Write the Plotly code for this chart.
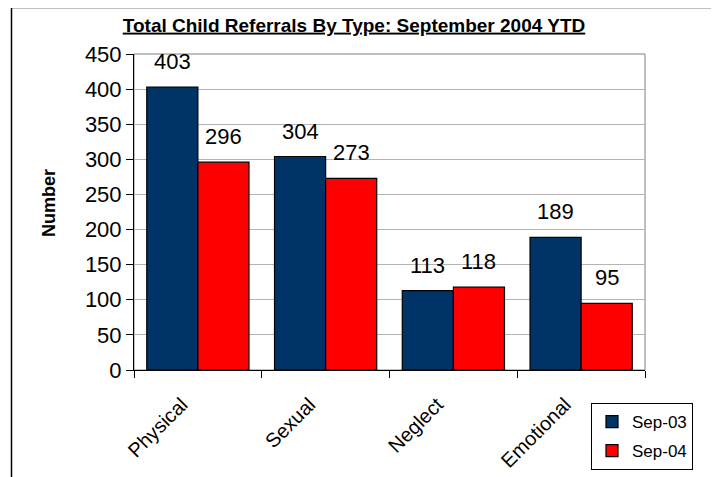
import plotly.graph_objects as go

categories = ["Physical", "Sexual", "Neglect", "Emotional"]
sep03 = [403, 304, 113, 189]
sep04 = [296, 273, 118, 95]
series_names = ["Sep-03", "Sep-04"]
y_ticks = [0, 50, 100, 150, 200, 250, 300, 350, 400, 450]

# page has an 8px body margin; figure is sized/positioned to compensate
OFF = 8
W, H = 719 - OFF, 477 - OFF
ML, MT = 134 - OFF, 54 - OFF
MR = W - (645 - OFF)
MB = H - (370 - OFF)
PW = W - ML - MR
PH = H - MT - MB
BARGAP = 0.2
cat_w = PW / len(categories)
bar_w = cat_w * (1 - BARGAP) / 2


def px_x(x):  # reference pixel -> paper x
    return (x - 134) / PW


def px_y(y):  # reference pixel -> paper y
    return (370 - y) / PH


FONT = "Arial, Liberation Sans, sans-serif"
BLUE = "#003366"
RED = "#FF0000"

fig = go.Figure()
for name, vals, col, grp in [(series_names[0], sep03, BLUE, "a"), (series_names[1], sep04, RED, "b")]:
    fig.add_trace(go.Bar(
        x=categories, y=vals, name=name, legendgroup=grp,
        marker=dict(color=col, line=dict(color="black", width=1.2)),
        hoverinfo="x+y",
    ))

annotations = []
for vals, sign in [(sep03, -1), (sep04, 1)]:
    for c, v in zip(categories, vals):
        annotations.append(dict(
            x=c, y=v, xref="x", yref="y", text=str(v), showarrow=False,
            xanchor="center", yanchor="bottom", xshift=sign * bar_w / 2, yshift=11,
            font=dict(family=FONT, size=22, color="black"),
        ))

annotations.append(dict(
    x=px_x(49), y=px_y(203), xref="paper", yref="paper",
    text="<b>Number</b>", textangle=-90, showarrow=False,
    xanchor="center", yanchor="middle",
    font=dict(family=FONT, size=18, color="black"),
))

shapes = [
    dict(type="rect", xref="paper", yref="paper", x0=0, x1=1, y0=0, y1=1,
         line=dict(color="#808080", width=1), layer="below"),
    dict(type="rect", xref="paper", yref="paper",
         x0=px_x(11.5), x1=px_x(715), y0=px_y(490), y1=px_y(7.5),
         line=dict(color="black", width=1.5)),
]

fig.update_layout(
    width=W, height=H,
    margin=dict(l=ML, r=MR, t=MT, b=MB, autoexpand=False),
    paper_bgcolor="white", plot_bgcolor="white",
    barmode="group", bargap=BARGAP, bargroupgap=0,
    font=dict(family=FONT, color="black"),
    title=dict(
        text="<b><u>Total Child Referrals By Type: September 2004 YTD</u></b>",
        x=(354 - OFF) / W, xref="container", xanchor="center",
        y=1 - (25 - OFF) / H, yref="container", yanchor="middle",
        font=dict(family=FONT, size=19, color="black"),
    ),
    xaxis=dict(
        tickangle=-45, tickfont=dict(family=FONT, size=20, color="black"),
        ticklabelstandoff=14, ticklabelshift=-16,
        showline=True, linecolor="black", linewidth=1,
        ticks="outside", ticklen=7, tickcolor="black", tickson="boundaries",
        showgrid=False, zeroline=False,
    ),
    yaxis=dict(
        range=[0, 450], tickvals=y_ticks, ticktext=[str(t) for t in y_ticks],
        tickfont=dict(family=FONT, size=22, color="black"),
        showline=True, linecolor="black", linewidth=1,
        ticks="outside", ticklen=7, tickcolor="black",
        showgrid=True, gridcolor="#B4B4B4", gridwidth=1, zeroline=False,
    ),
    legend=dict(
        x=px_x(591), y=px_y(403), xanchor="left", yanchor="top",
        bordercolor="black", borderwidth=1, bgcolor="white",
        font=dict(family=FONT, size=17, color="black"),
        traceorder="grouped", tracegroupgap=4,
    ),
    annotations=annotations,
    shapes=shapes,
    showlegend=True,
)

fig.write_html("out.html")
